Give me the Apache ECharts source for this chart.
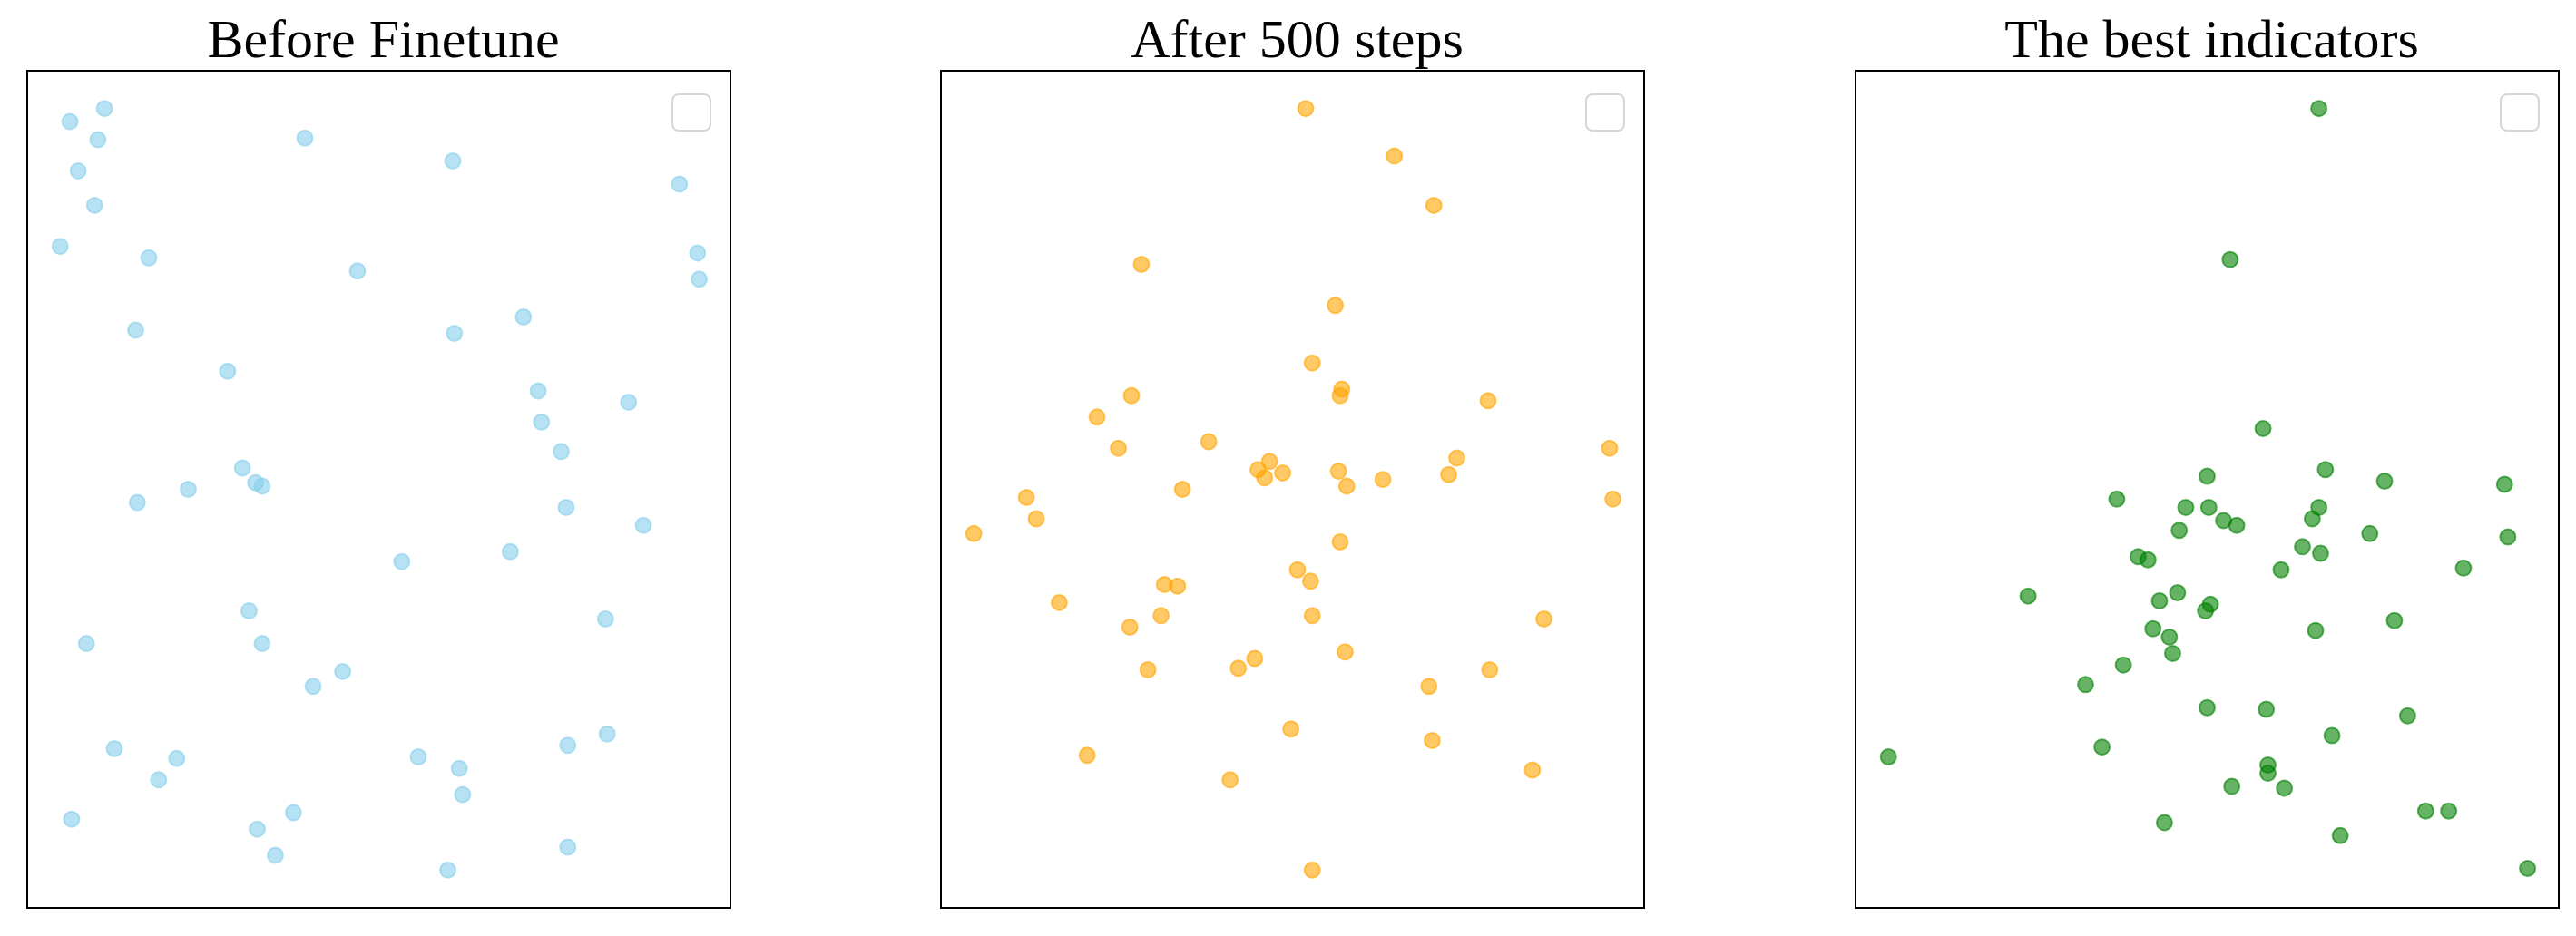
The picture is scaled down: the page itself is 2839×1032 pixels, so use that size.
<!DOCTYPE html>
<html>
<head>
<meta charset="utf-8">
<title>scatter</title>
<script src="https://cdn.jsdelivr.net/npm/echarts@6/dist/echarts.min.js"></script>
<style>
    html, body { margin: 0; padding: 0; background: #fff; }
    #main { width: 2839px; height: 1032px; }
</style>
</head>
<body>
<div id="main"></div>
<script>
// 标题
var titles = ['Before Finetune', 'After 500 steps', 'The best indicators'];

// 各子图的散点 [x, y]
var beforeFinetune = [
    [47, 487], [26, 479], [43, 468], [169, 469], [31, 449], [259, 455], [41, 428], [397, 441],
    [20, 403], [74, 396], [408, 399], [201, 388], [409, 383], [66, 352], [260, 350], [302, 360],
    [122, 327], [311, 315], [366, 308], [313, 296], [325, 278], [131, 268], [139, 259], [143, 257],
    [98, 255], [67, 247], [328, 244], [375, 233], [294, 217], [228, 211], [135, 181], [352, 176],
    [36, 161], [143, 161], [192, 144], [174, 135], [53, 97], [91, 91], [238, 92], [263, 85],
    [353, 106], [329, 99], [80, 78], [265, 69], [27, 54], [162, 58], [140, 48], [151, 32],
    [329, 37], [256, 23]
];
var after500 = [
    [222, 487], [276, 458], [300, 428], [122, 392], [240, 367], [226, 332], [244, 316], [243, 312],
    [116, 312], [333, 309], [95, 299], [108, 280], [163, 284], [407, 280], [314, 274], [200, 272],
    [193, 267], [208, 265], [242, 266], [197, 262], [269, 261], [309, 264], [247, 257], [147, 255],
    [52, 250], [409, 249], [58, 237], [20, 228], [243, 223], [217, 206], [225, 199], [136, 197],
    [144, 196], [72, 186], [134, 178], [226, 178], [115, 171], [367, 176], [246, 156], [191, 152],
    [181, 146], [126, 145], [334, 145], [297, 135], [213, 109], [299, 102], [89, 93], [360, 84],
    [176, 78], [226, 23]
];
var bestIndicators = [
    [282, 487], [228, 395], [248, 292], [286, 267], [214, 263], [322, 260], [395, 258], [159, 249],
    [201, 244], [215, 244], [282, 244], [224, 236], [278, 237], [232, 233], [197, 230], [313, 228],
    [397, 226], [272, 220], [283, 216], [172, 214], [178, 212], [259, 206], [370, 207], [196, 192],
    [105, 190], [185, 187], [216, 185], [213, 181], [328, 175], [181, 170], [280, 169], [191, 165],
    [193, 155], [163, 148], [140, 136], [214, 122], [250, 121], [336, 117], [290, 105], [150, 98],
    [20, 92], [251, 87], [251, 82], [229, 74], [261, 73], [347, 59], [361, 59], [188, 52],
    [295, 44], [409, 24]
];

// 坐标范围
var xRange = [0, 428];
var yRange = [0, 510];

var seriesData = [beforeFinetune, after500, bestIndicators];
var colors = ['rgba(135,206,235,0.6)', 'rgba(255,165,0,0.6)', 'rgba(0,128,0,0.6)'];

function load_scatter(elementId) {
    var lefts = [30, 1037, 2045];
    var gridTop = 78, gridW = 775, gridH = 923;
    var option = {
        backgroundColor: '#fff',
        animation: false,
        title: [], grid: [], xAxis: [], yAxis: [], series: [], graphic: []
    };
    for (var i = 0; i < 3; i++) {
        option.title.push({
            text: titles[i],
            left: lefts[i] + gridW / 2,
            top: 12,
            textAlign: 'center',
            textStyle: {
                fontFamily: 'Liberation Serif',
                fontSize: 60,
                fontWeight: 'normal',
                color: '#000'
            }
        });
        option.grid.push({
            left: lefts[i], top: gridTop, width: gridW, height: gridH,
            show: true,
            borderColor: '#000',
            borderWidth: 2,
            backgroundColor: '#fff'
        });
        option.xAxis.push({
            type: 'value', gridIndex: i, min: xRange[0], max: xRange[1],
            axisLine: { show: false }, axisTick: { show: false },
            axisLabel: { show: false }, splitLine: { show: false }
        });
        option.yAxis.push({
            type: 'value', gridIndex: i, min: yRange[0], max: yRange[1],
            axisLine: { show: false }, axisTick: { show: false },
            axisLabel: { show: false }, splitLine: { show: false }
        });
        option.series.push({
            type: 'scatter',
            xAxisIndex: i,
            yAxisIndex: i,
            symbolSize: 17,
            itemStyle: {
                color: colors[i],
                borderColor: colors[i],
                borderWidth: 2,
                opacity: 1
            },
            data: seriesData[i]
        });
        // 空图例框
        option.graphic.push({
            type: 'rect',
            left: lefts[i] + gridW - 65,
            top: gridTop + 25,
            shape: { width: 42, height: 40, r: 7 },
            style: { fill: '#fff', stroke: '#d6d6d6', lineWidth: 2 },
            z: 10
        });
    }
    var myChart = echarts.init(document.getElementById(elementId));
    myChart.setOption(option, true);
}

load_scatter('main');
</script>
</body>
</html>
